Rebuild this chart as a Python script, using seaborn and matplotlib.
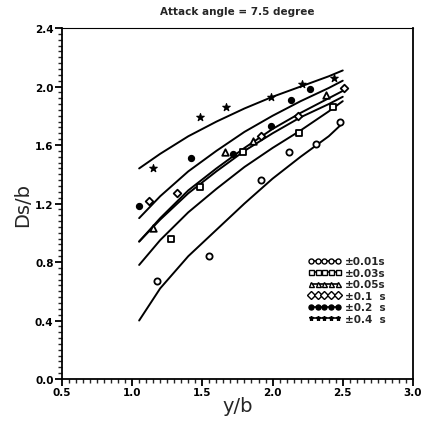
import pandas as pd
import numpy as np
import matplotlib
matplotlib.use('Agg')
import matplotlib.pyplot as plt
from matplotlib.ticker import MultipleLocator
from matplotlib.lines import Line2D
import seaborn as sns

# Fitted curves at these y/b positions
curve_x = [1.05, 1.2, 1.4, 1.6, 1.8, 2.0, 2.2, 2.4, 2.5]
curve_001 = [0.40, 0.62, 0.84, 1.02, 1.20, 1.37, 1.52, 1.66, 1.75]
curve_003 = [0.78, 0.95, 1.14, 1.30, 1.45, 1.58, 1.70, 1.83, 1.90]
curve_005 = [0.94, 1.09, 1.27, 1.42, 1.56, 1.68, 1.79, 1.88, 1.93]
curve_01 = [0.94, 1.10, 1.29, 1.44, 1.58, 1.71, 1.82, 1.92, 1.97]
curve_02 = [1.10, 1.25, 1.42, 1.56, 1.69, 1.80, 1.90, 1.99, 2.04]
curve_04 = [1.44, 1.54, 1.66, 1.76, 1.85, 1.93, 2.00, 2.07, 2.11]

# Measured points
x_001 = [1.18, 1.55, 1.92, 2.12, 2.31, 2.48]
y_001 = [0.67, 0.84, 1.36, 1.55, 1.61, 1.76]
x_003 = [1.28, 1.48, 1.79, 2.19, 2.43]
y_003 = [0.96, 1.31, 1.55, 1.68, 1.86]
x_005 = [1.15, 1.66, 1.86, 2.38]
y_005 = [1.03, 1.55, 1.63, 1.94]
x_01 = [1.12, 1.32, 1.92, 2.18, 2.51]
y_01 = [1.22, 1.27, 1.66, 1.80, 1.99]
x_02 = [1.05, 1.42, 1.72, 1.99, 2.13, 2.27]
y_02 = [1.18, 1.51, 1.54, 1.73, 1.91, 1.98]
x_04 = [1.15, 1.48, 1.67, 1.99, 2.21, 2.44]
y_04 = [1.44, 1.79, 1.86, 1.93, 2.02, 2.06]

labels = ['\u00b10.01s', '\u00b10.03s', '\u00b10.05s', '\u00b10.1  s', '\u00b10.2  s', '\u00b10.4  s']

sns.set_style('ticks')
plt.rcParams['font.family'] = ['DejaVu Sans']

fig = plt.figure(figsize=(4.24, 4.27), dpi=100)
ax = fig.add_axes([0.146, 0.110, 0.828, 0.822])

curves = [curve_001, curve_003, curve_005, curve_01, curve_02, curve_04]
for c in curves:
    df = pd.DataFrame({'x': curve_x, 'y': c})
    sns.lineplot(data=df, x='x', y='y', ax=ax, color='black', lw=1.4, sort=False)

# marker styles for each series
styles = [
    dict(marker='o', facecolor='white', edgecolor='black', s=20, linewidth=1.3),
    dict(marker='s', facecolor='white', edgecolor='black', s=18, linewidth=1.3),
    dict(marker='^', facecolor='white', edgecolor='black', s=22, linewidth=1.3),
    dict(marker='D', facecolor='white', edgecolor='black', s=15, linewidth=1.3),
    dict(marker='o', facecolor='black', edgecolor='black', s=18, linewidth=1.0),
    dict(marker='*', facecolor='black', edgecolor='black', s=32, linewidth=0.8),
]
series = [(x_001, y_001), (x_003, y_003), (x_005, y_005),
          (x_01, y_01), (x_02, y_02), (x_04, y_04)]
for (xs, ys), st in zip(series, styles):
    sns.scatterplot(x=xs, y=ys, ax=ax, zorder=3, **st)

ax.set_xlim(0.5, 3.0)
ax.set_ylim(0.0, 2.4)
ax.xaxis.set_major_locator(MultipleLocator(0.5))
ax.xaxis.set_minor_locator(MultipleLocator(0.05))
ax.yaxis.set_major_locator(MultipleLocator(0.4))
ax.yaxis.set_minor_locator(MultipleLocator(0.04))
ax.tick_params(which='major', direction='out', length=5, width=1.3,
               labelsize=7.5, pad=1, colors='black')
ax.tick_params(which='minor', direction='out', length=3, width=1.0)
for lab in ax.get_xticklabels() + ax.get_yticklabels():
    lab.set_fontweight('bold')
for sp in ax.spines.values():
    sp.set_visible(True)
    sp.set_linewidth(1.3)
    sp.set_color('black')
ax.spines['top'].set_linewidth(0.8)

ax.set_xlabel('y/b', fontsize=14, labelpad=-1)
ax.set_ylabel('Ds/b', fontsize=14, labelpad=2)
ax.set_title('Attack angle = 7.5 degree', fontsize=7.5, fontweight='bold', pad=10)

handles = []
for st in styles:
    handles.append(Line2D([], [], color='black', lw=1.2, marker=st['marker'],
                          markerfacecolor=st['facecolor'], markeredgecolor='black',
                          markersize=3.6, markeredgewidth=1.0))
leg = ax.legend(handles, labels, loc='lower right', bbox_to_anchor=(0.95, 0.13),
                frameon=False, numpoints=5, handlelength=3.2, handletextpad=0.4,
                labelspacing=0.15, prop={'size': 7.5, 'weight': 'bold'})

fig.savefig('out.png', dpi=100)
